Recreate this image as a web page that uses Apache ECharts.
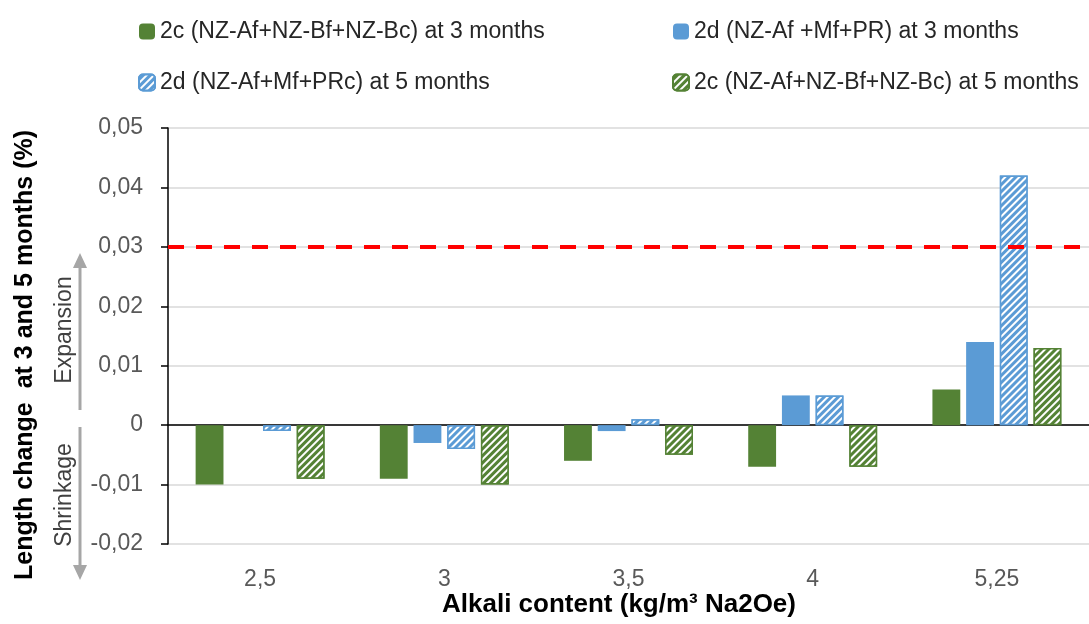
<!DOCTYPE html>
<html><head><meta charset="utf-8">
<script src="https://cdn.jsdelivr.net/npm/echarts@6/dist/echarts.min.js"></script>
<style>html,body{margin:0;padding:0;background:#fff}#c{width:1089px;height:624px}</style>
</head><body><div id="c"></div>
<script>
const categories = ['2,5', '3', '3,5', '4', '5,25'];
const s2c3 = [-0.010, -0.009, -0.006, -0.007, 0.006];
const s2d3 = [0, -0.003, -0.001, 0.005, 0.014];
const s2d5 = [-0.001, -0.004, 0.001, 0.005, 0.042];
const s2c5 = [-0.009, -0.010, -0.005, -0.007, 0.013];
const names = ['2c (NZ-Af+NZ-Bf+NZ-Bc) at 3 months', '2d (NZ-Af +Mf+PR) at 3 months',
  '2d (NZ-Af+Mf+PRc) at 5 months', '2c (NZ-Af+NZ-Bf+NZ-Bc) at 5 months'];
const yTicks = {min: -0.02, max: 0.05, interval: 0.01};
const limitValue = 0.0302;

const FONT = '"Liberation Sans", Arial, sans-serif';
const GREEN = '#548235', BLUE = '#5b9bd5';
const hatch = {symbol: 'rect', symbolSize: 1, color: '#ffffff', dashArrayX: [1, 0], dashArrayY: [2, 3], rotation: -Math.PI / 4};

const chart = echarts.init(document.getElementById('c'), null, {renderer: 'canvas'});
function bar(name, data, color, hatched) {
  return {
    name, type: 'bar', data, xAxisIndex: 1, barCategoryGap: '30%', barGap: '21%',
    itemStyle: hatched ? {color, borderColor: color, borderWidth: 1.5, decal: hatch} : {color},
    emphasis: {disabled: true}
  };
}
const series = [
  bar(names[0], s2c3, GREEN, false),
  bar(names[1], s2d3, BLUE, false),
  bar(names[2], s2d5, BLUE, true),
  bar(names[3], s2c5, GREEN, true)
];
series[0].markLine = {
  silent: true, symbol: 'none', label: {show: false},
  lineStyle: {color: '#ff0000', type: [16, 12], width: 4},
  data: [{yAxis: limitValue}]
};
const legendText = {fontFamily: FONT, fontSize: 23, color: '#262626'};
chart.setOption({
  animation: false,
  textStyle: {fontFamily: FONT},
  grid: {left: 168, top: 128, width: 930, height: 416, containLabel: false},
  legend: [
    {left: 133, top: 15, orient: 'vertical', itemGap: 28, itemWidth: 16, itemHeight: 16, textStyle: legendText, data: [names[0], names[2]]},
    {left: 667, top: 15, orient: 'vertical', itemGap: 28, itemWidth: 16, itemHeight: 16, textStyle: legendText, data: [names[1], names[3]]}
  ],
  title: {text: 'Alkali content (kg/m³ Na2Oe)', left: 619, top: 592, textAlign: 'center', padding: 0,
    textStyle: {fontFamily: FONT, fontSize: 26, fontWeight: 'bold', color: '#000'}},
  xAxis: [
    {type: 'category', data: categories, position: 'bottom', axisLine: {onZero: true, lineStyle: {color: '#000', width: 1.5}},
      axisTick: {show: false}, axisLabel: {show: false}},
    {type: 'category', data: categories, position: 'bottom', axisLine: {show: false, onZero: false}, axisTick: {show: false},
      axisLabel: {margin: 24, fontSize: 23, color: '#595959', fontFamily: FONT}}
  ],
  yAxis: {
    type: 'value', min: yTicks.min, max: yTicks.max, interval: yTicks.interval,
    axisLine: {show: true, lineStyle: {color: '#000', width: 1.5}},
    axisTick: {show: true, length: 7, lineStyle: {color: '#000', width: 1.5}},
    splitLine: {lineStyle: {color: '#d9d9d9', width: 1.5}},
    axisLabel: {margin: 25, fontSize: 23, color: '#595959', fontFamily: FONT,
      formatter: v => Math.abs(v) < 1e-9 ? '0' : v.toFixed(2).replace('.', ',')}
  },
  graphic: [
    {type: 'text', x: 25, y: 355, rotation: Math.PI / 2,
      style: {text: 'Length change  at 3 and 5 months (%)', fontFamily: FONT, fontSize: 25, fontWeight: 'bold', fill: '#000', align: 'center', verticalAlign: 'middle'}},
    {type: 'text', x: 65, y: 330, rotation: Math.PI / 2,
      style: {text: 'Expansion', fontFamily: FONT, fontSize: 23, fill: '#404040', align: 'center', verticalAlign: 'middle'}},
    {type: 'text', x: 65, y: 495, rotation: Math.PI / 2,
      style: {text: 'Shrinkage', fontFamily: FONT, fontSize: 23, fill: '#404040', align: 'center', verticalAlign: 'middle'}},
    {type: 'line', shape: {x1: 80, y1: 265, x2: 80, y2: 410}, style: {stroke: '#a6a6a6', lineWidth: 3}},
    {type: 'polygon', shape: {points: [[80, 253], [73, 268], [87, 268]]}, style: {fill: '#a6a6a6'}},
    {type: 'line', shape: {x1: 80, y1: 427, x2: 80, y2: 568}, style: {stroke: '#a6a6a6', lineWidth: 3}},
    {type: 'polygon', shape: {points: [[80, 580], [73, 565], [87, 565]]}, style: {fill: '#a6a6a6'}}
  ],
  series
});
</script></body></html>
